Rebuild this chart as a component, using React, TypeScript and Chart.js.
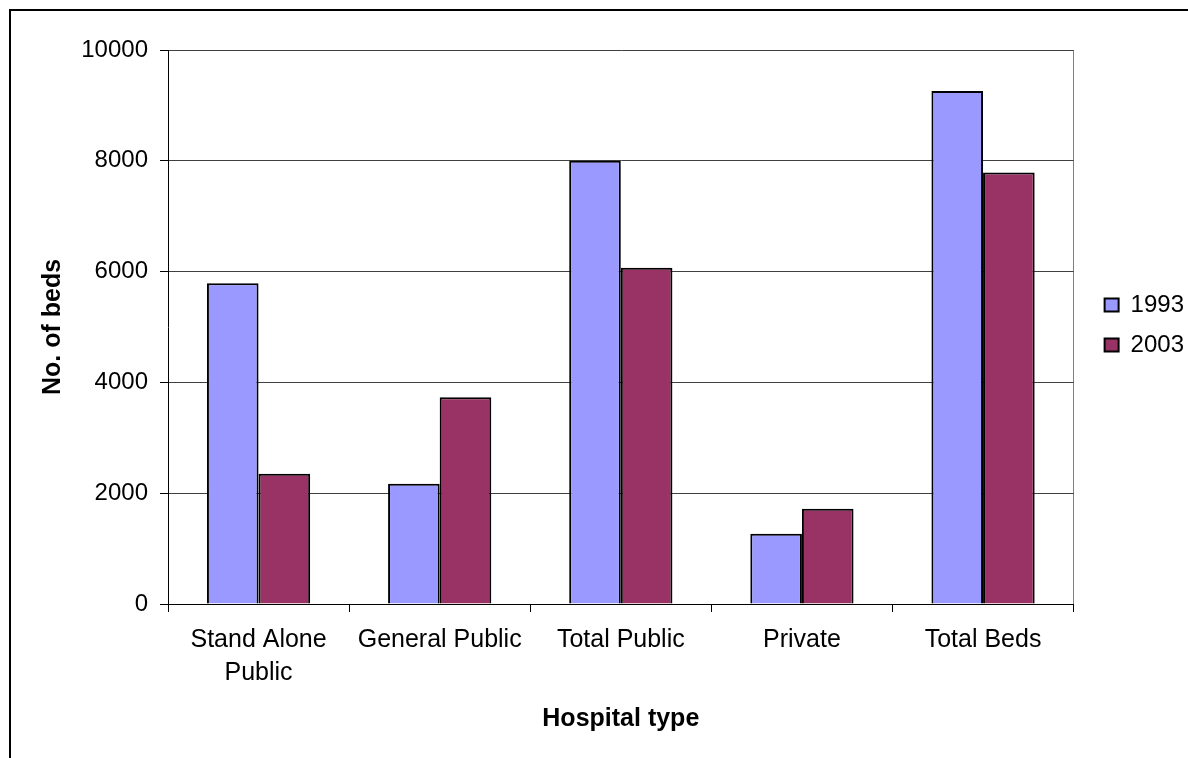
import React, { useEffect, useRef } from 'react';
import { Chart, registerables } from 'chart.js';

Chart.register(...registerables);

const categories: (string | string[])[] = [['Stand Alone', 'Public'], 'General Public', 'Total Public', 'Private', 'Total Beds'];
const seriesNames = ['1993', '2003'];
const beds1993 = [5790, 2170, 8000, 1270, 9260];
const beds2003 = [2350, 3730, 6070, 1720, 7790];
const yTickValues = [0, 2000, 4000, 6000, 8000, 10000];
const yTitle = 'No. of beds';
const xTitle = 'Hospital type';

const FONT = "'Liberation Sans', Arial, Helvetica, sans-serif";

const legendShift = {
  id: 'legendShift',
  afterLayout(chart: any) {
    const l = chart.legend;
    if (!l) return;
    l.left += 15;
    l.right += 15;
    const mid = (chart.chartArea.top + chart.chartArea.bottom) / 2 - 2;
    const h = l.bottom - l.top;
    l.top = mid - h / 2;
    l.bottom = l.top + h;
  },
};

export default function App() {
  const ref = useRef<HTMLCanvasElement>(null);

  useEffect(() => {
    if (!ref.current) return;
    const chart = new Chart(ref.current, {
      type: 'bar',
      data: {
        labels: categories as any,
        datasets: [
          {
            label: seriesNames[0],
            data: beds1993,
            backgroundColor: '#9999FF',
            borderColor: '#000000',
            borderWidth: 2,
            categoryPercentage: 0.57,
            barPercentage: 1,
          },
          {
            label: seriesNames[1],
            data: beds2003,
            backgroundColor: '#993366',
            borderColor: '#000000',
            borderWidth: 2,
            categoryPercentage: 0.57,
            barPercentage: 1,
          },
        ],
      },
      options: {
        responsive: false,
        animation: false,
        devicePixelRatio: 1,
        layout: { padding: { top: 50, right: 9, bottom: 0, left: 0 } },
        plugins: {
          legend: {
            position: 'right',
            labels: {
              boxWidth: 14,
              boxHeight: 13,
              padding: 16,
              color: '#000000',
              font: { family: FONT, size: 24 },
            },
          },
          tooltip: { enabled: false },
        },
        scales: {
          x: {
            afterFit: (s: any) => {
              s.height = 154;
            },
            grid: {
              display: true,
              drawOnChartArea: true,
              offset: true,
              color: (c: any) => (c.index === undefined ? '#808080' : 'rgba(0,0,0,0)'),
              tickColor: '#000000',
              tickLength: 8,
              lineWidth: 1,
            },
            border: { display: true, color: '#000000', width: 1 },
            ticks: {
              color: '#000000',
              font: { family: FONT, size: 25, lineHeight: 1.3 },
              padding: 12,
              maxRotation: 0,
              autoSkip: false,
            },
            title: {
              display: true,
              text: xTitle,
              color: '#000000',
              font: { family: FONT, size: 25, weight: 'bold' },
              padding: { top: 0, bottom: 24 },
            },
          },
          y: {
            min: 0,
            max: 10000,
            afterFit: (s: any) => {
              s.width = 168;
            },
            afterBuildTicks: (s: any) => {
              s.ticks = yTickValues.map((v) => ({ value: v }));
            },
            ticks: {
              color: '#000000',
              font: { family: FONT, size: 24 },
              padding: 12,
              callback: (v: any) => String(v),
            },
            grid: {
              color: '#404040',
              tickColor: '#000000',
              tickLength: 8,
              lineWidth: 1,
            },
            border: { display: true, color: '#000000', width: 1 },
            title: {
              display: true,
              text: yTitle,
              color: '#000000',
              font: { family: FONT, size: 25, weight: 'bold' },
              padding: { top: 38, bottom: 0 },
            },
          },
        },
      },
      plugins: [legendShift],
    });
    return () => chart.destroy();
  }, []);

  return (
    <div
      style={{
        position: 'fixed',
        left: 0,
        top: 0,
        width: 1188,
        height: 758,
        overflow: 'hidden',
        background: '#ffffff',
      }}
    >
      <canvas ref={ref} width={1188} height={758} style={{ position: 'absolute', left: 0, top: 0, width: 1188, height: 758 }} />
      <div
        style={{
          position: 'absolute',
          left: 9,
          top: 9,
          width: 1400,
          height: 1000,
          borderLeft: '2px solid #000000',
          borderTop: '2px solid #000000',
          pointerEvents: 'none',
        }}
      />
    </div>
  );
}
